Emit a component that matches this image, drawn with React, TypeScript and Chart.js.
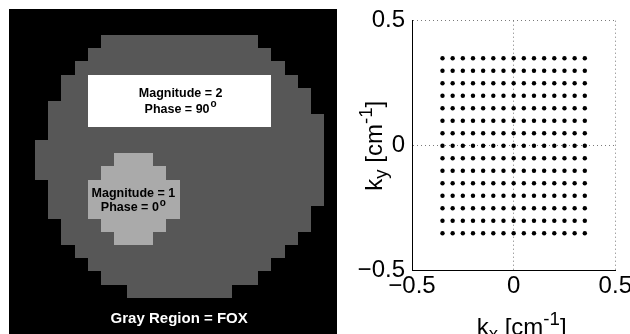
import React, { useEffect, useRef } from "react";
import { Chart, registerables } from "chart.js";

Chart.register(...registerables);

// ---------- Phantom image data (25 x 25 pixel grid) ----------
const GRID_SIZE = 25;
// [row, firstCol, lastCol] of the gray disc (field of excitation)
const fovRows: number[][] = [
  [2, 7, 18], [3, 6, 19], [4, 5, 20], [5, 4, 21], [6, 4, 22], [7, 3, 22],
  [8, 3, 23], [9, 3, 23], [10, 2, 23], [11, 2, 23], [12, 2, 23], [13, 3, 23],
  [14, 3, 23], [15, 3, 22], [16, 4, 22], [17, 4, 21], [18, 5, 20], [19, 6, 19],
  [20, 7, 18], [21, 9, 16],
];
// magnitude 2 rectangle
const brightRows: number[][] = [[5, 6, 19], [6, 6, 19], [7, 6, 19], [8, 6, 19]];
// magnitude 1 blob
const blobRows: number[][] = [
  [11, 8, 10], [12, 7, 11], [13, 6, 12], [14, 6, 12], [15, 6, 12], [16, 7, 11], [17, 8, 10],
];
const brightText = ["Magnitude = 2", "Phase = 90"];
const blobText = ["Magnitude = 1", "Phase = 0"];
const degreeMark = "o";
const fovText = "Gray Region = FOX";

// ---------- k-space sampling data ----------
const kxValues = [-0.35, -0.3, -0.25, -0.2, -0.15, -0.1, -0.05, 0, 0.05, 0.1, 0.15, 0.2, 0.25, 0.3, 0.35];
const kyValues = [-0.35, -0.3, -0.25, -0.2, -0.15, -0.1, -0.05, 0, 0.05, 0.1, 0.15, 0.2, 0.25, 0.3, 0.35];
const axisTicks = [-0.5, 0, 0.5];
const xTitle = [["k", "n"], ["x", "sub"], [" [cm", "n"], ["-1", "sup"], ["]", "n"]];
const yTitle = [["k", "n"], ["y", "sub"], [" [cm", "n"], ["-1", "sup"], ["]", "n"]];

// ---------- styles ----------
const FONT = "'Liberation Sans', Arial, Helvetica, sans-serif";
const COLORS = { bg: "#000000", fov: "#575757", bright: "#ffffff", blob: "#aaaaaa" };

const labelLayout = {
  bright: { x: 13.08, y: [6.71, 7.89], size: 12.5, color: "#000" },
  blob: { x: 9.48, y: [14.31, 15.4], size: 12.5, color: "#000" },
  fov: { x: 12.97, y: 23.9, size: 15, color: "#fff" },
};

function drawLine(ctx: CanvasRenderingContext2D, main: string, sup: string | null, cx: number, baseY: number, size: number, color: string) {
  ctx.font = `bold ${size}px ${FONT}`;
  const w1 = ctx.measureText(main).width;
  let w2 = 0;
  const supSize = size * 0.8;
  if (sup) {
    ctx.font = `bold ${supSize}px ${FONT}`;
    w2 = ctx.measureText(sup).width + 1;
  }
  const start = cx - (w1 + w2) / 2;
  ctx.fillStyle = color;
  ctx.textAlign = "left";
  ctx.textBaseline = "alphabetic";
  ctx.font = `bold ${size}px ${FONT}`;
  ctx.fillText(main, start, baseY);
  if (sup) {
    ctx.font = `bold ${supSize}px ${FONT}`;
    ctx.fillText(sup, start + w1 + 1, baseY - size * 0.42);
  }
}

const phantomPlugin = {
  id: "phantom",
  beforeDatasetsDraw(chart: any) {
    const { ctx, scales } = chart;
    const xs = scales.x;
    const ys = scales.y;
    const px = (c: number) => Math.round(xs.getPixelForValue(c));
    const py = (r: number) => Math.round(ys.getPixelForValue(r));
    const span = (r: number, c0: number, c1: number, color: string) => {
      ctx.fillStyle = color;
      ctx.fillRect(px(c0), py(r), px(c1 + 1) - px(c0), py(r + 1) - py(r));
    };
    ctx.save();
    ctx.fillStyle = COLORS.bg;
    ctx.fillRect(px(0), py(0), px(GRID_SIZE) - px(0), py(GRID_SIZE) - py(0));
    fovRows.forEach(([r, a, b]) => span(r, a, b, COLORS.fov));
    brightRows.forEach(([r, a, b]) => span(r, a, b, COLORS.bright));
    blobRows.forEach(([r, a, b]) => span(r, a, b, COLORS.blob));

    const L = labelLayout;
    drawLine(ctx, brightText[0], null, xs.getPixelForValue(L.bright.x), ys.getPixelForValue(L.bright.y[0]), L.bright.size, L.bright.color);
    drawLine(ctx, brightText[1], degreeMark, xs.getPixelForValue(L.bright.x), ys.getPixelForValue(L.bright.y[1]), L.bright.size, L.bright.color);
    drawLine(ctx, blobText[0], null, xs.getPixelForValue(L.blob.x), ys.getPixelForValue(L.blob.y[0]), L.blob.size, L.blob.color);
    drawLine(ctx, blobText[1], degreeMark, xs.getPixelForValue(L.blob.x), ys.getPixelForValue(L.blob.y[1]), L.blob.size, L.blob.color);
    drawLine(ctx, fovText, null, xs.getPixelForValue(L.fov.x), ys.getPixelForValue(L.fov.y), L.fov.size, L.fov.color);
    ctx.restore();
  },
};

const TITLE_SIZE = 24;
function richWidth(ctx: CanvasRenderingContext2D, parts: string[][], size: number) {
  let w = 0;
  parts.forEach(([t, kind]) => {
    const s = kind === "n" ? size : size * 0.78;
    ctx.font = `${s}px ${FONT}`;
    w += ctx.measureText(t).width;
  });
  return w;
}
function drawRich(ctx: CanvasRenderingContext2D, parts: string[][], x0: number, base: number, size: number) {
  let x = x0;
  parts.forEach(([t, kind]) => {
    const s = kind === "n" ? size : size * 0.78;
    const dy = kind === "sub" ? size * 0.22 : kind === "sup" ? -size * 0.4 : 0;
    ctx.font = `${s}px ${FONT}`;
    ctx.fillText(t, x, base + dy);
    x += ctx.measureText(t).width;
  });
}

const axisTitlePlugin = {
  id: "axisTitles",
  afterDraw(chart: any) {
    const { ctx, chartArea } = chart;
    ctx.save();
    ctx.fillStyle = "#000";
    ctx.textAlign = "left";
    ctx.textBaseline = "alphabetic";
    // x title
    const cx = (chartArea.left + chartArea.right) / 2 + 8;
    const wx = richWidth(ctx, xTitle, TITLE_SIZE);
    drawRich(ctx, xTitle, cx - wx / 2, chartArea.bottom + 64, TITLE_SIZE);
    // y title
    const cy = (chartArea.top + chartArea.bottom) / 2;
    const wy = richWidth(ctx, yTitle, TITLE_SIZE);
    ctx.translate(chartArea.left - 30, cy);
    ctx.rotate(-Math.PI / 2);
    drawRich(ctx, yTitle, -wy / 2, 0, TITLE_SIZE);
    ctx.restore();
  },
};

const fmt = (v: number) => {
  if (v === 0) return "0";
  const s = Math.abs(v).toString();
  return v < 0 ? "\u2212" + s : s;
};

export default function App() {
  const leftRef = useRef<HTMLCanvasElement | null>(null);
  const rightRef = useRef<HTMLCanvasElement | null>(null);

  useEffect(() => {
    const left = new Chart(leftRef.current as HTMLCanvasElement, {
      type: "scatter",
      data: { datasets: [] },
      options: {
        responsive: false,
        animation: false,
        layout: { padding: 0 },
        plugins: { legend: { display: false }, tooltip: { enabled: false } },
        scales: {
          x: { type: "linear", min: 0, max: GRID_SIZE, display: false },
          y: { type: "linear", min: 0, max: GRID_SIZE, reverse: true, display: false },
        },
      },
      plugins: [phantomPlugin],
    });

    const points: { x: number; y: number }[] = [];
    kyValues.forEach((ky) => kxValues.forEach((kx) => points.push({ x: kx, y: ky })));

    const gridStyle = {
      color: "#7a7a7a",
      lineWidth: 1,
      drawTicks: false,
    };
    const borderStyle = { display: true, color: "#000", width: 1, dash: [1, 3] };

    const right = new Chart(rightRef.current as HTMLCanvasElement, {
      type: "scatter",
      data: {
        datasets: [
          {
            data: points,
            pointRadius: 2.2,
            pointHoverRadius: 2.2,
            backgroundColor: "#000",
            borderColor: "#000",
            borderWidth: 0,
          },
        ],
      },
      options: {
        responsive: false,
        animation: false,
        layout: { padding: { left: 0, top: 20.7, right: 14.7, bottom: 0 } },
        plugins: { legend: { display: false }, tooltip: { enabled: false } },
        scales: {
          x: {
            type: "linear",
            min: -0.5,
            max: 0.5,
            afterBuildTicks: (s: any) => { s.ticks = axisTicks.map((v) => ({ value: v })); },
            afterFit: (s: any) => { s.height = 63.3; s.paddingLeft = 0; s.paddingRight = 0; },
            ticks: {
              font: { family: FONT, size: 24 },
              color: "#000",
              padding: 1,
              maxRotation: 0,
              autoSkip: false,
              callback: (v: any) => fmt(Number(v)),
            },
            grid: gridStyle,
            border: borderStyle,
          },
          y: {
            type: "linear",
            min: -0.5,
            max: 0.5,
            afterBuildTicks: (s: any) => { s.ticks = axisTicks.map((v) => ({ value: v })); },
            afterFit: (s: any) => { s.width = 72; s.paddingTop = 0; s.paddingBottom = 0; },
            ticks: {
              font: { family: FONT, size: 24 },
              color: "#000",
              padding: 7,
              autoSkip: false,
              callback: (v: any) => fmt(Number(v)),
            },
            grid: gridStyle,
            border: borderStyle,
          },
        },
      },
      plugins: [axisTitlePlugin],
    });

    return () => {
      left.destroy();
      right.destroy();
    };
  }, []);

  return (
    <div style={{ position: "absolute", left: 0, top: 0, width: 630, height: 334, overflow: "hidden", background: "#fff" }}>
      <canvas ref={leftRef} width={328} height={328} style={{ position: "absolute", left: 9, top: 9, display: "block" }} />
      <canvas ref={rightRef} width={290} height={334} style={{ position: "absolute", left: 340, top: 0, display: "block" }} />
    </div>
  );
}
